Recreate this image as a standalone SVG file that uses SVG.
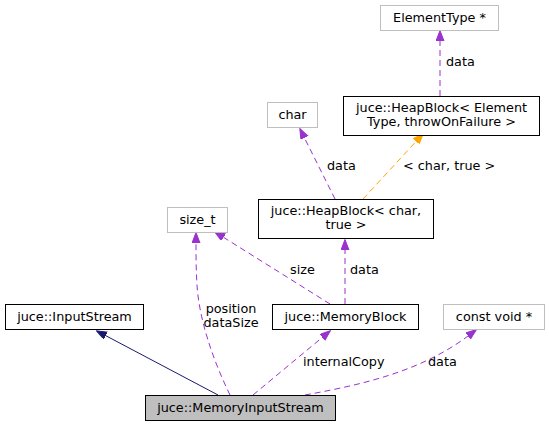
<svg xmlns="http://www.w3.org/2000/svg" width="549" height="427" viewBox="0 0 549 427">
<style>
text{font-family:"DejaVu Sans","Liberation Sans",sans-serif;font-size:12.8px;fill:#000}
.n rect{fill:#fff;stroke:#000;stroke-width:1}
.g rect{fill:#fff;stroke:#bfbfbf;stroke-width:1}
.cur rect{fill:#bfbfbf;stroke:#000;stroke-width:1}
.n text,.g text,.cur text{text-anchor:middle}
.e{fill:none;stroke-width:1}
.p{stroke:#9a32cd;stroke-dasharray:6,4}
.o{stroke:#ffa500;stroke-dasharray:6,4}
.b{stroke:#191970}
</style>
<defs>
<marker id="ap" markerUnits="userSpaceOnUse" markerWidth="11" markerHeight="9" refX="0" refY="4" orient="auto"><path d="M0,0 L10.5,4 L0,8 z" fill="#9a32cd" stroke="#9a32cd"/></marker>
<marker id="ao" markerUnits="userSpaceOnUse" markerWidth="11" markerHeight="9" refX="0" refY="4" orient="auto"><path d="M0,0 L10.5,4 L0,8 z" fill="#ffa500" stroke="#ffa500"/></marker>
<marker id="ab" markerUnits="userSpaceOnUse" markerWidth="11" markerHeight="9" refX="0" refY="4" orient="auto"><path d="M0,0 L10.5,4 L0,8 z" fill="#191970" stroke="#191970"/></marker>
</defs>
<g id="connectors">
<path class="e p" d="M440,96 L440,41" marker-end="url(#ap)"/>
<text x="446" y="66">data</text>
<path class="e o" d="M363,199 L416.2,141.3" marker-end="url(#ao)"/>
<text x="403" y="170">&lt; char, true &gt;</text>
<path class="e p" d="M335,199 L304.5,138" marker-end="url(#ap)"/>
<text x="327" y="170">data</text>
<path class="e p" d="M345,304 L345,250" marker-end="url(#ap)"/>
<text x="350" y="274">data</text>
<path class="e p" d="M330,304 L223.5,237.3" marker-end="url(#ap)"/>
<text x="290" y="274">size</text>
<path class="e p" d="M230,395 C212,358 199,318 197,285 C196,268 196,255 196,243" marker-end="url(#ap)"/>
<text x="231" y="313" text-anchor="middle">position</text>
<text x="231" y="327" text-anchor="middle">dataSize</text>
<path class="e b" d="M218,395 L105.8,335.7" marker-end="url(#ab)"/>
<path class="e p" d="M253,395 L322.3,337.4" marker-end="url(#ap)"/>
<text x="303" y="366">internalCopy</text>
<path class="e p" d="M305,395 C360,385 420,372 468,336" marker-end="url(#ap)"/>
<text x="428" y="366">data</text>
</g>
<g id="node-elementtype" class="g"><rect x="380.5" y="5.5" width="118" height="25"/><text x="439.5" y="22">ElementType *</text></g>
<g id="node-heapblock-et" class="n"><rect x="343.5" y="96.5" width="196" height="39"/><text x="441.5" y="112">juce::HeapBlock&lt; Element</text><text x="441.5" y="126">Type, throwOnFailure &gt;</text></g>
<g id="node-char" class="g"><rect x="267.5" y="102.5" width="50" height="25"/><text x="292.5" y="119">char</text></g>
<g id="node-heapblock-char" class="n"><rect x="258.5" y="199.5" width="175" height="39"/><text x="346" y="215">juce::HeapBlock&lt; char,</text><text x="346" y="229">true &gt;</text></g>
<g id="node-size_t" class="g"><rect x="167.5" y="207.5" width="60" height="25"/><text x="197.5" y="224">size_t</text></g>
<g id="node-inputstream" class="n"><rect x="5.5" y="304.5" width="138" height="25"/><text x="74.5" y="321">juce::InputStream</text></g>
<g id="node-memoryblock" class="n"><rect x="272.5" y="304.5" width="146" height="25"/><text x="345.5" y="321">juce::MemoryBlock</text></g>
<g id="node-constvoid" class="g"><rect x="443.5" y="304.5" width="101" height="25"/><text x="494" y="321">const void *</text></g>
<g id="node-memoryinputstream" class="cur"><rect x="145.5" y="395.5" width="190" height="25"/><text x="240.5" y="412">juce::MemoryInputStream</text></g>
</svg>
